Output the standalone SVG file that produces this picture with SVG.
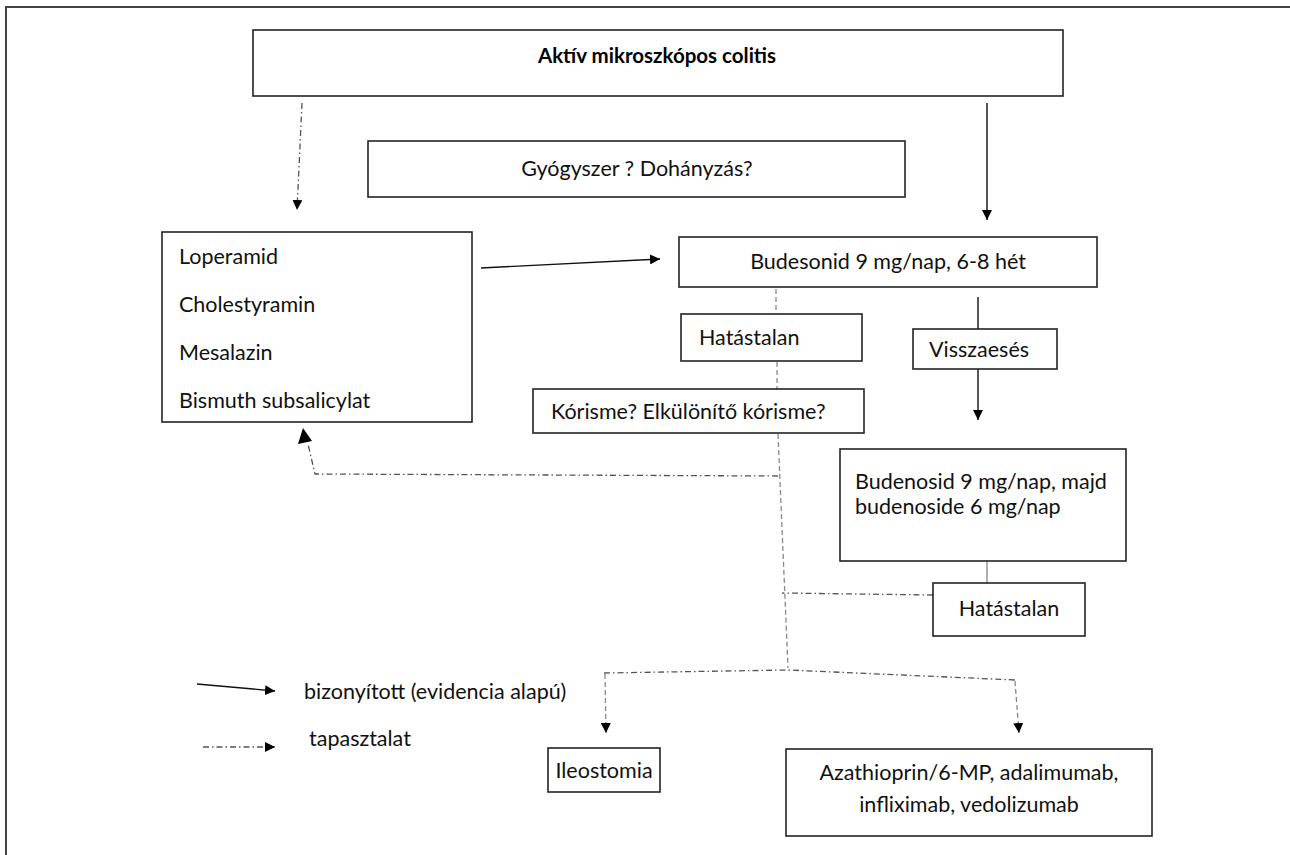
<svg xmlns="http://www.w3.org/2000/svg" width="1290" height="855" viewBox="0 0 1290 855">
  <defs>
    <marker id="arr" viewBox="0 0 10 10" refX="10" refY="5" markerWidth="10" markerHeight="10" markerUnits="userSpaceOnUse" orient="auto">
      <path d="M0,0 L10,5 L0,10 z" fill="#000"/>
    </marker>
    <style>
      .box { fill: #fff; stroke: #222; stroke-width: 1.6; }
      .t { font-family: Lato, "Liberation Sans", sans-serif; font-size: 21.5px; fill: #111; }
      .tb { font-family: Lato, "Liberation Sans", sans-serif; font-size: 20.5px; font-weight: bold; fill: #000; }
      .solid { fill: none; stroke: #111; stroke-width: 1.4; }
      .thin { fill: none; stroke: #777; stroke-width: 1.2; }
      .dash { fill: none; stroke: #888; stroke-width: 1.3; stroke-dasharray: 5 3; }
      .dashdot { fill: none; stroke: #555; stroke-width: 1.3; stroke-dasharray: 6 3 1.5 3; }
    </style>
  </defs>
  <rect width="1290" height="855" fill="#fff"/>
  <!-- page frame: top and left rules only -->
  <path d="M6,855 V7 H1290" fill="none" stroke="#444" stroke-width="2"/>

  <g id="connectors">
    <path class="dashdot" d="M302,103 L297,210" marker-end="url(#arr)"/>
    <path class="solid" d="M987,103 V220" marker-end="url(#arr)"/>
    <path class="solid" d="M481,268 L660,259" marker-end="url(#arr)"/>
    <path class="dash" d="M776,289 V314"/>
    <path class="solid" d="M978,297 V329"/>
    <path class="solid" d="M978,369 V420" marker-end="url(#arr)"/>
    <path class="dash" d="M777,362 V389"/>
    <path class="dash" d="M778,434 L788,668"/>
    <path class="dashdot" d="M778,476 L315,474 L308,444"/>
    <path d="M303,428 L298,444 L312,441 z" fill="#000"/>
    <path class="thin" d="M987,561 V583"/>
    <path class="dashdot" d="M933,595 L782,593"/>
    <path class="dashdot" d="M604,673 L788,670 L1015,680"/>
    <path class="dash" d="M605,674 L606,733" marker-end="url(#arr)"/>
    <path class="dash" d="M1015,681 L1019,733" marker-end="url(#arr)"/>
  </g>

  <g id="n-aktiv">
    <rect class="box" x="253" y="30" width="810" height="66"/>
    <text class="tb" x="657" y="63" text-anchor="middle">Aktív mikroszkópos colitis</text>
  </g>
  <g id="n-gyogyszer">
    <rect class="box" x="368" y="141" width="537" height="56"/>
    <text class="t" x="637" y="176" text-anchor="middle">Gyógyszer ? Dohányzás?</text>
  </g>
  <g id="n-loperamid">
    <rect class="box" x="162" y="232" width="310" height="190"/>
    <text class="t" x="179" y="264">Loperamid</text>
    <text class="t" x="179" y="312">Cholestyramin</text>
    <text class="t" x="179" y="360">Mesalazin</text>
    <text class="t" x="179" y="408">Bismuth subsalicylat</text>
  </g>
  <g id="n-budesonid">
    <rect class="box" x="679" y="237" width="418" height="50"/>
    <text class="t" x="888" y="269" text-anchor="middle">Budesonid 9 mg/nap, 6-8 hét</text>
  </g>
  <g id="n-hatastalan1">
    <rect class="box" x="681" y="314" width="181" height="47"/>
    <text class="t" x="699" y="345">Hatástalan</text>
  </g>
  <g id="n-visszaeses">
    <rect class="box" x="913" y="329" width="144" height="40"/>
    <text class="t" x="929" y="357">Visszaesés</text>
  </g>
  <g id="n-korisme">
    <rect class="box" x="533" y="389" width="331" height="44"/>
    <text class="t" x="551" y="419">Kórisme? Elkülönítő kórisme?</text>
  </g>
  <g id="n-budenosid">
    <rect class="box" x="840" y="449" width="286" height="112"/>
    <text class="t" x="855" y="489">Budenosid 9 mg/nap, majd</text>
    <text class="t" x="855" y="514">budenoside 6 mg/nap</text>
  </g>
  <g id="n-hatastalan2">
    <rect class="box" x="933" y="583" width="152" height="53"/>
    <text class="t" x="1009" y="616" text-anchor="middle">Hatástalan</text>
  </g>
  <g id="n-ileostomia">
    <rect class="box" x="548" y="748" width="112" height="44"/>
    <text class="t" x="604" y="778" text-anchor="middle">Ileostomia</text>
  </g>
  <g id="n-azathioprin">
    <rect class="box" x="786" y="749" width="366" height="87"/>
    <text class="t" x="969" y="780" text-anchor="middle">Azathioprin/6-MP, adalimumab,</text>
    <text class="t" x="969" y="812" text-anchor="middle">infliximab, vedolizumab</text>
  </g>

  <g id="legend">
    <path class="solid" d="M197,684 L275,691" marker-end="url(#arr)"/>
    <text class="t" x="304" y="699">bizonyított (evidencia alapú)</text>
    <path class="dashdot" d="M203,747 L275,747" marker-end="url(#arr)"/>
    <text class="t" x="309" y="746">tapasztalat</text>
  </g>
</svg>
